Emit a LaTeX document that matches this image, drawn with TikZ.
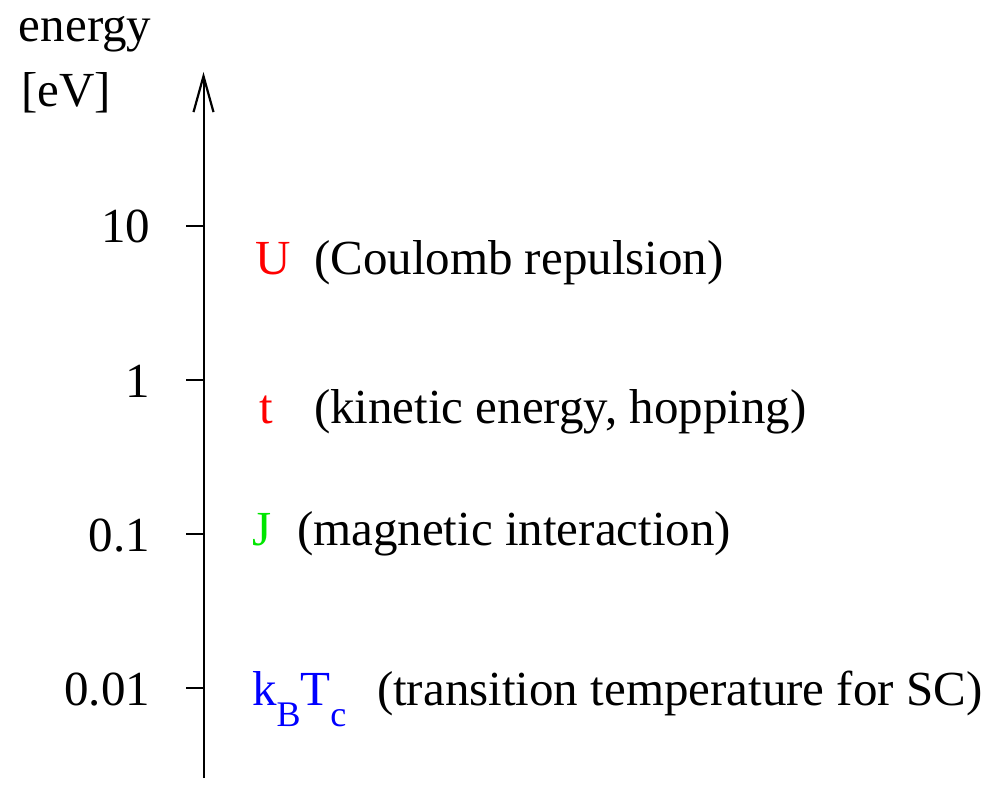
\documentclass[tikz,border=0pt]{standalone}
\usepackage{fontspec}
\setmainfont{Liberation Serif}
\usetikzlibrary{arrows.meta}
\definecolor{xred}{RGB}{255,0,0}
\definecolor{xgreen}{RGB}{0,230,0}
\definecolor{xblue}{RGB}{0,0,255}
\newcommand\mysubscr[1]{\raisebox{-21pt}{\fontsize{36}{40}\selectfont #1}}
\begin{document}
\begin{tikzpicture}[x=1pt,y=-1pt,
  txt/.style={inner sep=0pt,outer sep=0pt,anchor=base west,font=\fontsize{49}{56}\selectfont},
  ticklabel/.style={inner sep=0pt,outer sep=0pt,anchor=base east,font=\fontsize{49}{56}\selectfont},
  axisline/.style={line width=2pt},
  tickline/.style={line width=2pt}]
\useasboundingbox (0,0) rectangle (993,805);
% axis
\coordinate (bot) at (203.5,778);
\coordinate (top) at (203.5,72);
\draw[axisline,-{Straight Barb[length=36pt,width=20pt,line width=2.2pt]}] (bot) -- (top);
% axis title
\node[txt] (lab1) at (19,42) {energy};
\node[txt] (lab2) at (21,107) {[eV]};
% ticks
\foreach \name/\y/\val in {a/226/10, b/380/1, c/534/0.1, d/688/0.01}{
  \coordinate (t\name) at (203.5,\y);
  \coordinate (s\name) at (186,\y);
  \draw[tickline] (s\name) -- (t\name);
  \node[ticklabel] (n\name) at (150,\y+17) {\val};
}
% labels
\node[txt,text=xred] (U) at (255,274) {U};
\node[txt] (Ut) at (314,274) {(Coulomb repulsion)};
\node[txt,text=xred] (t) at (259,423) {t};
\node[txt] (tt) at (314,423) {(kinetic energy, hopping)};
\node[txt,text=xgreen] (J) at (252,545) {J};
\node[txt] (Jt) at (297,545) {(magnetic interaction)};
\node[txt,text=xblue] (k) at (252,705) {k\mysubscr{B}T\mysubscr{c}};
\node[txt] (kt) at (377,705) {(transition temperature for SC)};
\end{tikzpicture}
\end{document}
